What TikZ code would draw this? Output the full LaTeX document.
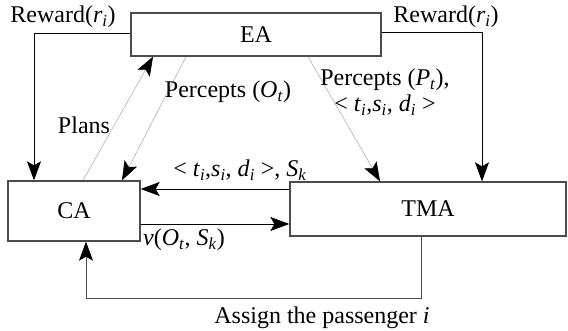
\documentclass[tikz,border=0pt]{standalone}
\usepackage{fontspec}
\setmainfont{Liberation Serif}
\usetikzlibrary{arrows.meta}
\newcommand{\sbi}[1]{\textsubscript{\textit{#1}}}
\begin{document}
\begin{tikzpicture}[x=1pt,y=-1pt,
  box/.style={draw=black!70, line width=1.3pt, inner sep=0pt, font=\fontsize{24}{28}\selectfont},
  lbl/.style={font=\fontsize{24}{28}\selectfont, inner sep=0pt},
  arr/.style={draw=black, line width=0.9pt, -{Stealth[length=19pt,width=14pt,inset=4pt,black]}},
  faint/.style={draw=black!35, line width=0.5pt, -{Stealth[length=19pt,width=14pt,inset=4pt,black]}}]
\useasboundingbox (0,0) rectangle (568,331);
\node[box, minimum width=250pt, minimum height=43pt] (EA) at (256,34.5) {EA};
\node[box, minimum width=132pt, minimum height=60pt] (CA) at (74,211) {CA};
\node[box, minimum width=276pt, minimum height=54pt] (TMA) at (428,209) {TMA};
% rewards
\coordinate (rl) at (34,33);
\draw[arr] (EA.west |- rl) -- (rl) -- (rl |- CA.north);
\coordinate (rr) at (482,32);
\draw[arr] (EA.east |- rr) -- (rr) -- (rr |- TMA.north);
% plans and percepts
\coordinate (pa) at (83,0);
\coordinate (pb) at (153,0);
\draw[faint] (pa |- CA.north) -- (pb |- EA.south);
\coordinate (oa) at (186,0);
\coordinate (ob) at (122,0);
\draw[faint] (oa |- EA.south) -- (ob |- CA.north);
\coordinate (qa) at (308,0);
\coordinate (qb) at (380,0);
\draw[faint] (qa |- EA.south) -- (qb |- TMA.north);
% CA <-> TMA
\coordinate (h1) at (0,189);
\draw[arr] (TMA.west |- h1) -- (CA.east |- h1);
\coordinate (h2) at (0,224);
\draw[arr] (CA.east |- h2) -- (TMA.west |- h2);
% assign
\coordinate (b1) at (421,298);
\coordinate (b2) at (86,298);
\draw[arr, draw=black!70] (b1 |- TMA.south) -- (b1) -- (b2) -- (b2 |- CA.south);
% labels
\node[lbl] (lrl) at (63,17) {Reward(\textit{r}\sbi{i})};
\node[lbl] (lrr) at (446,17) {Reward(\textit{r}\sbi{i})};
\node[lbl] (lpo) at (228,92) {Percepts (\textit{O}\sbi{t})};
\node[lbl] (lpl) at (84,125) {Plans};
\node[lbl, align=center] (lpp) at (385,92) {Percepts (\textit{P}\sbi{t}),\\[-2pt]\textless\ \textit{t}\sbi{i},\textit{s}\sbi{i}, \textit{d}\sbi{i} \textgreater};
\node[lbl] (ltu) at (240,170) {\textless\ \textit{t}\sbi{i},\textit{s}\sbi{i}, \textit{d}\sbi{i} \textgreater, \textit{S}\sbi{k}};
\node[lbl, anchor=west] (lv) at (143,240) {\textit{v}(\textit{O}\sbi{t}, \textit{S}\sbi{k})};
\node[lbl] (las) at (322,318) {Assign the passenger \textit{i}};
\end{tikzpicture}
\end{document}
